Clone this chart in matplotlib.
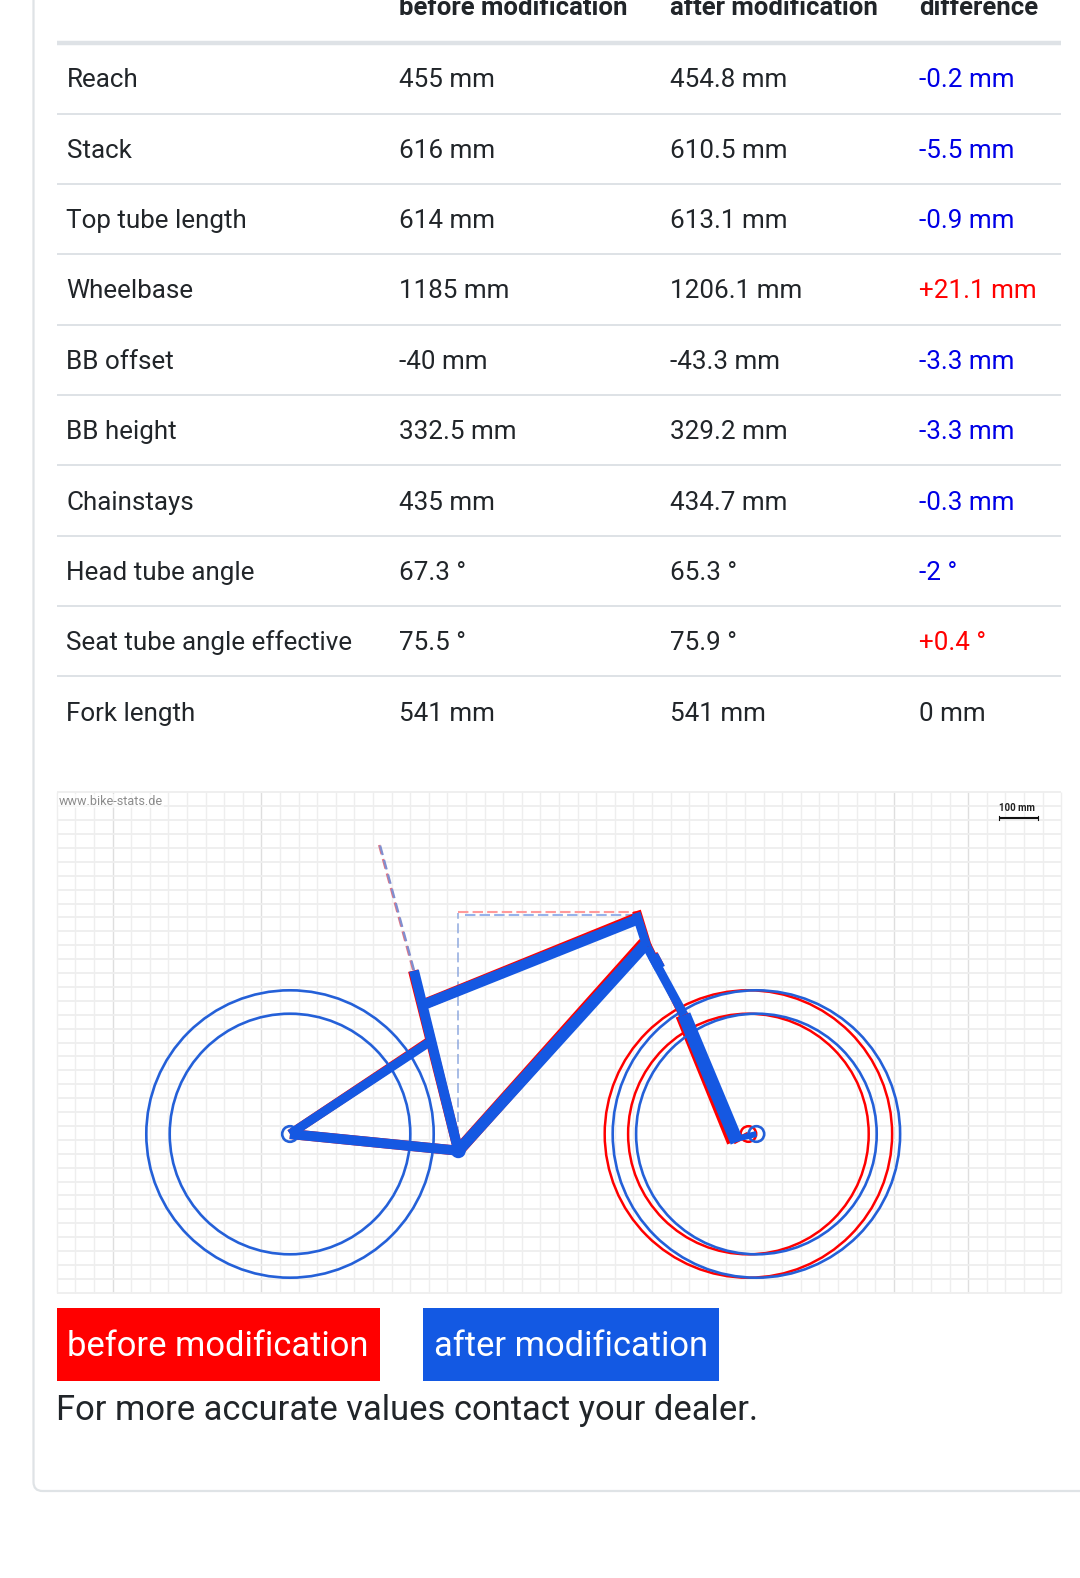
import matplotlib
matplotlib.use("Agg")
import matplotlib.pyplot as plt
from matplotlib.patches import Circle, Rectangle, FancyBboxPatch

plt.rcParams['font.family'] = ['Roboto', 'DejaVu Sans']

W, H = 1080, 1578
headers = ["before modification", "after modification", "difference"]
rows = ["Reach", "Stack", "Top tube length", "Wheelbase", "BB offset", "BB height",
        "Chainstays", "Head tube angle", "Seat tube angle effective", "Fork length"]
before = ["455 mm", "616 mm", "614 mm", "1185 mm", "-40 mm", "332.5 mm",
          "435 mm", "67.3 °", "75.5 °", "541 mm"]
after = ["454.8 mm", "610.5 mm", "613.1 mm", "1206.1 mm", "-43.3 mm", "329.2 mm",
         "434.7 mm", "65.3 °", "75.9 °", "541 mm"]
diff = ["-0.2 mm", "-5.5 mm", "-0.9 mm", "+21.1 mm", "-3.3 mm", "-3.3 mm",
        "-0.3 mm", "-2 °", "+0.4 °", "0 mm"]
diff_sign = [-1, -1, -1, 1, -1, -1, -1, -1, 1, 0]

# bike geometry (picture pixels)
rear_hub = (290, 1134)
bb = (458.3, 1150.7)
blue_seat_top = (414, 970.7)
blue_tt = [(423, 1005), (636, 920)]
blue_ss_top = (428, 1043)
blue_head = [(636, 913), (647, 947)]
blue_dt_top = (645, 945)
blue_cup = [(653, 955.5), (660, 968.5)]
blue_fork_thin = [(647, 947), (684, 1015)]
blue_fork_thick = [(684, 1015), (737, 1142)]
blue_hub = (756.4, 1134)
red_hub = (748.4, 1134)
red_seat_top = (413, 970.7)
red_tt = [(423, 1004.5), (636, 918)]
red_ss_top = (428, 1042)
red_head = [(636.5, 911), (647.5, 947)]
red_dt_top = (644, 943)
red_cup = [(652.7, 954.5), (659.7, 967.5)]
red_fork_thin = [(648, 945), (682, 1015)]
red_fork_thick = [(682, 1015), (733.5, 1142)]
blue_spine = [(414, 970), (380, 845)]
red_spine = [(413.2, 970), (379.2, 845)]
wheel_radii = (143.7, 120.3)
dark_grid_columns = [3, 11, 45, 49]

RED = '#ff0000'
BLUE = '#1558e2'
TXT = '#212529'
LINE = '#dee2e6'

fig = plt.figure(figsize=(W/100, H/100), dpi=100)
ax = fig.add_axes([0, 0, 1, 1])
ax.set_xlim(0, W); ax.set_ylim(H, 0); ax.axis('off')

# card
ax.add_patch(FancyBboxPatch((33.5, -60), 1200, 1551, boxstyle="round,pad=0,rounding_size=9",
                            fc='white', ec='#dfe3e6', lw=1.6, zorder=0))

# table
FS = 18.75
ax.plot([56.5, 1061], [42.7, 42.7], color=LINE, lw=3.2, solid_capstyle='butt', zorder=1)
cols = [399, 670.5, 919]
for x, t in zip(cols, headers):
    ax.text(x, 14.5, t, fontsize=18.55, fontweight='bold', color=TXT, va='baseline', zorder=2)
for i, r in enumerate(rows):
    yc = 77.6 + i * 70.42
    ybase = yc + 9.5
    ax.text(66.5, ybase, r, fontsize=FS, color=TXT, va='baseline')
    ax.text(cols[0], ybase, before[i], fontsize=FS, color=TXT, va='baseline')
    ax.text(cols[1], ybase, after[i], fontsize=FS, color=TXT, va='baseline')
    c = {1: RED, -1: '#0000e6', 0: TXT}[diff_sign[i]]
    ax.text(cols[2], ybase, diff[i], fontsize=FS, color=c, va='baseline')
    if i < 9:
        yl = 113.6 + i * 70.35
        ax.plot([56.5, 1061], [yl, yl], color=LINE, lw=1.4, solid_capstyle='butt', zorder=1)

# grid
gx0, gy0 = 56.7, 792.3
gx1 = gx0 + 54 * 18.6
gy1 = gy0 + 36 * 13.9
for k in range(55):
    x = gx0 + k * 18.6
    ax.plot([x, x], [gy0, gy1], color='#dedede' if k in dark_grid_columns else '#eeeeee',
            lw=1.0, zorder=1, solid_capstyle='butt')
for k in range(37):
    y = gy0 + k * 13.9
    ax.plot([gx0, gx1], [y, y], color='#eeeeee', lw=1.3, zorder=1, solid_capstyle='butt')
ax.text(58.5, 804.5, "www.bike-stats.de", fontsize=9.1, color='#8c8c8c', va='baseline',
        zorder=3, bbox=dict(fc='white', ec='none', pad=0.6, alpha=0.6))
ax.text(1017, 811, "100 mm", fontsize=7, fontweight='bold', color='#222222', ha='center', va='baseline', zorder=3)
ax.plot([999, 1038], [817.5, 817.5], color='#111111', lw=1.5, zorder=3, solid_capstyle='butt')
ax.plot([999, 999], [815.5, 819.5], color='#111111', lw=0.8, zorder=3)
ax.plot([1038, 1038], [815.5, 819.5], color='#111111', lw=0.8, zorder=3)


def seg(p, q, col, w, z=4, **kw):
    ax.plot([p[0], q[0]], [p[1], q[1]], color=col, lw=w*0.72, solid_capstyle='butt', zorder=z, **kw)


def wheel(c, col, z, lw):
    for r in wheel_radii:
        ax.add_patch(Circle(c, r, fc='none', ec=col, lw=lw, zorder=z))
    ax.add_patch(Circle(c, 7.8, fc='none', ec=col, lw=lw, zorder=z))


# dashed guides
ax.plot(*zip(*red_spine), color='#e07585', lw=1.8, zorder=3, linestyle=(0, (4, 2)), dash_capstyle='butt')
ax.plot(*zip(*blue_spine), color='#7f8fd0', lw=1.6, zorder=3, linestyle=(0, (4.4, 2.3)), dash_capstyle='butt')
ax.plot([bb[0], bb[0]], [bb[1], 913], color='#8fa9df', lw=1.1, zorder=3, linestyle=(0, (6.5, 3)), dash_capstyle='butt')
ax.plot([bb[0], 636], [912, 912], color='#ff9a9a', lw=1.5, zorder=3, linestyle=(0, (5, 2)), dash_capstyle='butt')
ax.plot([bb[0] + 7, 636], [915, 915], color='#98b2ea', lw=1.5, zorder=3, linestyle=(0, (5, 2)), dash_capstyle='butt')

# before (red)
wheel(red_hub, RED, 4, 1.8)
seg(rear_hub, bb, RED, 10)
seg(rear_hub, red_ss_top, RED, 9)
seg(bb, red_seat_top, RED, 10)
seg(*red_tt, RED, 10.5)
seg(*red_head, RED, 9)
seg(bb, red_dt_top, RED, 12)
seg(*red_cup, RED, 10.5)
seg(*red_fork_thin, RED, 7)
seg(*red_fork_thick, RED, 13.5)
seg(red_fork_thick[1], red_hub, RED, 5)

# after (blue)
wheel(rear_hub, '#2460d8', 5, 1.9)
wheel(blue_hub, '#2460d8', 5, 1.9)
seg(rear_hub, bb, BLUE, 10, 5)
seg(rear_hub, blue_ss_top, BLUE, 9, 5)
seg(bb, blue_seat_top, BLUE, 10, 5)
seg(*blue_tt, BLUE, 10.5, 5)
seg(*blue_head, BLUE, 9, 5)
seg(bb, blue_dt_top, BLUE, 11.5, 5)
seg(*blue_cup, BLUE, 11, 5)
seg(*blue_fork_thin, BLUE, 9, 5)
seg(*blue_fork_thick, BLUE, 13.5, 5)
seg((blue_fork_thick[1][0] - 1, blue_fork_thick[1][1] - 3), blue_hub, BLUE, 6, 5)
ax.add_patch(Circle(bb, 7.5, fc=BLUE, ec='none', zorder=5))

# legend boxes
ax.add_patch(Rectangle((56.5, 1308), 323, 73, fc=RED, ec='none', zorder=2))
ax.add_patch(Rectangle((423, 1308), 296, 73, fc='#1359e3', ec='none', zorder=2))
ax.text(67, 1356, "before modification", fontsize=24.85, color='white', va='baseline', zorder=3)
ax.text(434, 1356, "after modification", fontsize=24.85, color='white', va='baseline', zorder=3)
ax.text(56.5, 1420, "For more accurate values contact your dealer.", fontsize=24.85, color=TXT, va='baseline')

fig.savefig("out.png", dpi=100, facecolor='white')
